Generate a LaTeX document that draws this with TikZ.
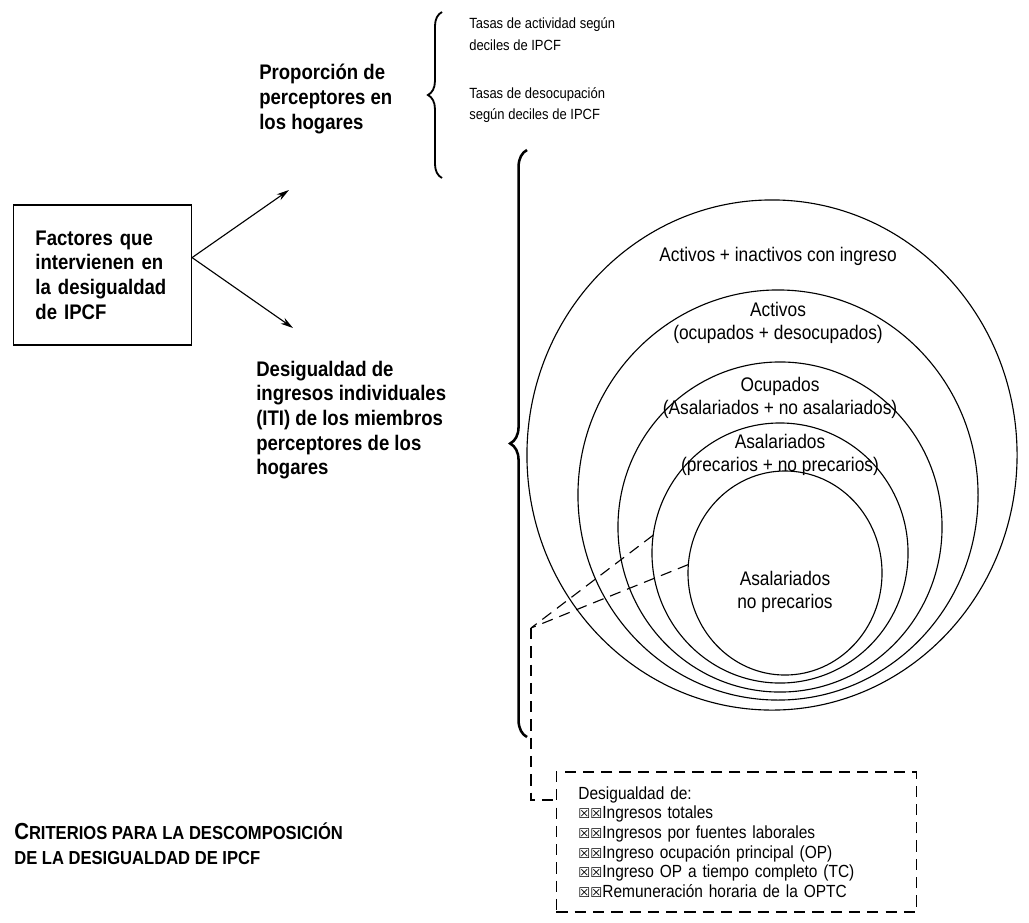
\documentclass[tikz,border=0pt]{standalone}
\usepackage{fontspec}
\setmainfont{Liberation Sans}[FakeStretch=0.88]
\newfontfamily\simbolos{DejaVu Sans}
\usepackage{tikz}
\usetikzlibrary{arrows.meta}
\usetikzlibrary{shapes.geometric, decorations.pathreplacing, positioning}

\newcommand{\casillas}{{\simbolos\fontsize{9.5}{14}\selectfont ☒☒}}

\tikzset{
  caja/.style={draw, line width=0.8pt, font=\fontsize{15}{17.5}\selectfont\bfseries,
    align=left, text width=3.35cm, inner xsep=0.55cm, minimum height=3.5cm},
  rama/.style={font=\fontsize{15}{17.5}\selectfont\bfseries, align=left, anchor=west, inner sep=0pt},
  tasa/.style={font=\fontsize{10.5}{15.5}\selectfont, align=left, anchor=west, inner sep=0pt},
  anillo/.style={draw, ellipse, line width=0.8pt, inner sep=0pt, outer sep=0pt},
  rotulo/.style={font=\fontsize{14}{16}\selectfont, align=center, inner sep=0pt},
  flecha/.style={-{Stealth[length=9pt,width=5pt]}, line width=0.8pt},
  llave/.style={decorate, line width=1.3pt},
  guion/.style={dash pattern=on 8pt off 5pt, line width=0.8pt},
  recuadro/.style={draw, guion, font=\fontsize{12.5}{14}\selectfont, align=left,
    text width=7.9cm, inner xsep=0.55cm, minimum height=3.5cm},
  encab/.style={font=\fontsize{13.4}{17.5}\selectfont\bfseries, align=left, anchor=west, inner sep=0pt}
}

\begin{document}
\begin{tikzpicture}[x=0.025cm, y=-0.025cm]
  \useasboundingbox (0,0) rectangle (1029,922);

  % Recuadro y ramas
  \node[caja] (fact) at (102.5,275) {Factores que\\intervienen en\\la desigualdad\\de IPCF};
  \node[rama] (prop) at (259,99) {Proporción de\\perceptores en\\los hogares};
  \node[rama] (desig) at (256,420) {Desigualdad de\\ingresos individuales\\(ITI) de los miembros\\perceptores de los\\hogares};
  \coordinate (pa) at (289,190);
  \coordinate (pb) at (293,328);
  \draw[flecha] (fact.11) -- (pa);
  \draw[flecha] (fact.11) -- (pb);

  % Llaves
  \coordinate (la1) at (442,178);
  \coordinate (la2) at (442,12);
  \draw[llave, decoration={brace, amplitude=10pt}] (la1) -- (la2);
  \node[tasa] (act) at (469,34) {Tasas de actividad según\\deciles de IPCF};
  \node[tasa] (deso) at (469,105) {Tasas de desocupación\\según deciles de IPCF};
  \coordinate (lb1) at (527,737);
  \coordinate (lb2) at (527,150);
  \draw[llave, line width=1.8pt, decoration={brace, amplitude=12pt}] (lb1) -- (lb2);

  % Anillos
  \node[anillo, minimum width=12.25cm, minimum height=12.75cm] (c1) at (772,455) {};
  \node[anillo, minimum width=10cm, minimum height=10.25cm] (c2) at (778,495) {};
  \node[anillo, minimum width=8.1cm, minimum height=8.25cm] (c3) at (780,527) {};
  \node[anillo, minimum width=6.4cm, minimum height=6.5cm] (c4) at (780,553) {};
  \node[anillo, minimum width=4.85cm, minimum height=5.1cm] (c5) at (785,573) {};
  \node[rotulo] (r1) at (778,256) {Activos + inactivos con ingreso};
  \node[rotulo] (r2) at (778,323) {Activos\\(ocupados + desocupados)};
  \node[rotulo] (r3) at (780,398) {Ocupados\\(Asalariados + no asalariados)};
  \node[rotulo] (r4) at (780,455) {Asalariados\\(precarios + no precarios)};
  \node[rotulo] (r5) at (785,592) {Asalariados\\no precarios};

  % Criterios
  \node[recuadro] (crit) at (736.5,842) {Desigualdad de:\\
    \casillas Ingresos totales\\
    \casillas Ingresos por fuentes laborales\\
    \casillas Ingreso ocupación principal (OP)\\
    \casillas Ingreso OP a tiempo completo (TC)\\
    \casillas Remuneración horaria de la OPTC};
  \coordinate (jn) at (531,628);
  \coordinate (enl) at (crit.west |- 0,800);
  \draw[guion] (c4.172) -- (jn);
  \draw[guion] (c5.175) -- (jn);
  \draw[guion] (jn) |- (enl);
  \node[encab] (tit) at (14,844) {{\fontsize{16.5}{17.5}\selectfont C}RITERIOS PARA LA DESCOMPOSICIÓN\\DE LA DESIGUALDAD DE IPCF};
\end{tikzpicture}
\end{document}
